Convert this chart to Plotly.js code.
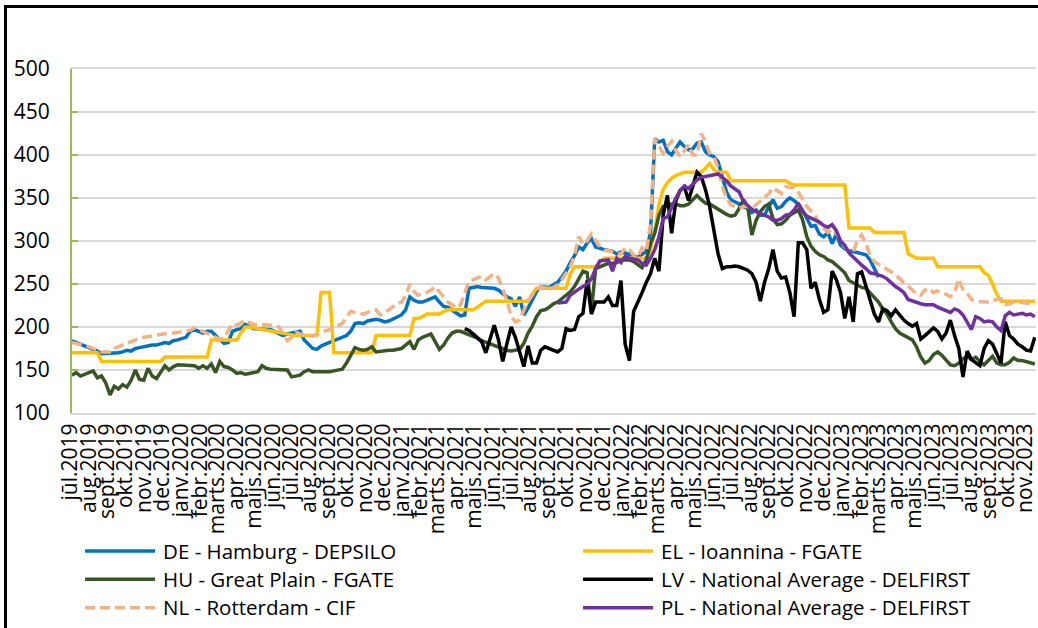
<!DOCTYPE html>
<html>
<head>
<meta charset="utf-8">
<script src="https://cdn.plot.ly/plotly-3.0.1.min.js"></script>
<style>
  html, body { margin: 0; padding: 0; background: #fff; overflow: hidden; }
  #chart { width: 1038px; height: 628px; }
  #frame { position: absolute; left: 4px; top: 5px; width: 1100px; height: 700px;
           border: 3px solid #000; pointer-events: none; }
</style>
</head>
<body>
<div id="chart"></div>
<div id="frame"></div>
<script>
// weekly prices, first week starting 1 Jul 2019
const firstWeek = Date.UTC(2019, 6, 1);
const weekCount = 229;

const monthNames = ['janv.', 'febr.', 'marts.', 'apr.', 'maijs.', 'jūn.', 'jūl.', 'aug.', 'sept.', 'okt.', 'nov.', 'dec.'];

const deStart = 0;
const dePrices = [
  184, 182, 180, 178, 177, 175, 172, 169, 169, 169,
  169, 170, 171, 173, 172, 175, 176, 177, 179, 179,
  179, 181, 182, 181, 184, 185, 186, 188, 195, 197,
  195, 193, 195, 195, 190, 185, 181, 182, 195, 197,
  198, 203, 200, 198, 198, 197, 197, 197, 195, 192,
  190, 192, 193, 195, 195, 185, 180, 175, 174, 178,
  180, 182, 184, 186, 188, 190, 195, 204, 205, 204,
  207, 208, 209, 208, 206, 207, 209, 211, 214, 220,
  235, 231, 229, 229, 231, 233, 235, 229, 224, 223,
  220, 216, 213, 214, 245, 246, 247, 246, 246, 245,
  245, 243, 239, 235, 233, 224, 235, 214, 222, 231,
  241, 247, 247, 246, 249, 252, 258, 265, 275, 283,
  293, 290, 298, 303, 293, 291, 290, 289, 288, 285,
  287, 286, 285, 283, 281, 285, 288, 310, 419, 415,
  417, 404, 400, 408, 415, 410, 406, 407, 414, 415,
  404, 400, 398, 392, 375, 357, 348, 346, 343, 340,
  338, 333, 336, 330, 330, 340, 348, 338, 340, 346,
  350, 347, 343, 336, 326, 317, 318, 308, 305, 310,
  297, 308, 295, 291, 289, 288, 287, 286, 284, 278,
  268, 258
];

const elStart = 0;
const elPrices = [
  170, 170, 170, 170, 170, 170, 170, 160, 160, 160,
  160, 160, 160, 160, 160, 160, 160, 160, 160, 160,
  160, 160, 165, 165, 165, 165, 165, 165, 165, 165,
  165, 165, 165, 185, 185, 185, 185, 185, 185, 185,
  193, 200, 200, 199, 198, 197, 196, 195, 194, 193,
  192, 191, 190, 190, 190, 190, 190, 190, 190, 240,
  240, 240, 170, 170, 170, 170, 170, 170, 170, 170,
  170, 170, 190, 190, 190, 190, 190, 190, 190, 190,
  190, 210, 210, 212, 215, 215, 215, 215, 218, 220,
  220, 220, 220, 220, 220, 220, 223, 227, 230, 230,
  230, 230, 230, 230, 230, 230, 230, 230, 230, 238,
  245, 245, 245, 245, 245, 245, 245, 245, 262, 270,
  270, 270, 270, 270, 270, 275, 280, 280, 280, 280,
  280, 280, 280, 280, 280, 280, 280, 290, 312, 343,
  360, 368, 373, 376, 378, 380, 380, 380, 380, 380,
  385, 390, 383, 380, 380, 380, 370, 370, 370, 370,
  370, 370, 370, 370, 370, 370, 370, 370, 370, 370,
  367, 365, 365, 365, 365, 365, 365, 365, 365, 365,
  365, 365, 365, 365, 315, 315, 315, 315, 315, 315,
  310, 310, 310, 310, 310, 310, 310, 310, 285, 282,
  280, 280, 280, 280, 280, 270, 270, 270, 270, 270,
  270, 270, 270, 270, 270, 270, 263, 260, 250, 238,
  230, 230, 230, 230, 230, 230, 230, 230, 230
];

const huStart = 0;
const huPrices = [
  144, 147, 143, 145, 146, 149, 141, 143, 135, 121,
  131, 128, 133, 130, 138, 150, 139, 138, 152, 143,
  140, 148, 155, 150, 154, 156, 156, 156, 156, 155,
  152, 155, 152, 157, 147, 160, 154, 153, 150, 146,
  147, 145, 146, 147, 148, 155, 152, 151, 151, 151,
  151, 150, 142, 143, 144, 148, 150, 148, 148, 147,
  147, 148, 149, 150, 151, 158, 167, 176, 174, 173,
  174, 177, 171, 172, 172, 173, 173, 174, 175, 179,
  183, 174, 185, 188, 190, 192, 183, 174, 179, 187,
  193, 195, 195, 193, 192, 190, 187, 184, 182, 180,
  179, 176, 175, 173, 172, 173, 174, 181, 193, 201,
  212, 219, 220, 223, 227, 229, 233, 237, 241, 247,
  256, 265, 263, 219, 268, 270, 272, 274, 274, 275,
  278, 278, 278, 276, 272, 269, 278, 297, 309, 330,
  340, 340, 343, 343, 341, 341, 343, 348, 353, 348,
  344, 343, 340, 336, 334, 331, 329, 330, 338, 348,
  340, 307, 324, 334, 340, 343, 326, 319, 320, 324,
  330, 333, 336, 325, 305, 294, 288, 284, 282, 278,
  276, 272, 267, 263, 254, 251, 249, 246, 245, 240,
  235, 229, 221, 215, 206, 198, 193, 190, 188, 185,
  177, 165, 158, 161, 168, 171, 167, 161, 156, 155,
  158, 163, 166, 162, 165, 160, 156, 161, 166, 158,
  156, 156, 159, 164, 161, 161, 160, 158, 157
];

const lvStart = 93;
const lvPrices = [
  198, 196, 192, 187, 183, 170, 185,
  202, 185, 160, 181, 200, 188, 170, 154, 178, 158,
  158, 173, 177, 175, 172, 171, 175, 198, 196, 197,
  212, 216, 254, 215, 229, 229, 229, 235, 225, 225,
  254, 180, 161, 218, 228, 240, 252, 262, 280, 265,
  330, 353, 309, 347, 359, 363, 347, 365, 380, 375,
  360, 340, 310, 285, 268, 270, 270, 271, 270, 268,
  266, 262, 252, 230, 252, 268, 290, 265, 257, 258,
  240, 212, 298, 298, 290, 245, 252, 232, 217, 220,
  265, 255, 240, 210, 235, 206, 262, 264, 248, 232,
  215, 206, 221, 219, 213, 220, 214, 208, 204, 201,
  204, 186, 190, 195, 199, 195, 186, 193, 208, 190,
  175, 142, 172, 162, 158, 155, 175, 184, 180, 170,
  158, 206, 190, 186, 180, 177, 173, 172, 188
];

const nlStart = 0;
const nlPrices = [
  182, 181, 180, 179, 177, 175, 173, 171, 171, 171,
  175, 177, 179, 182, 184, 186, 187, 188, 189, 190,
  191, 191, 192, 193, 193, 194, 194, 195, 196, 199,
  197, 195, 193, 191, 189, 186, 187, 195, 204, 202,
  205, 208, 205, 203, 203, 203, 202, 202, 202, 200,
  192, 184, 188, 194, 192, 190, 189, 190, 191, 194,
  195, 197, 200, 202, 204, 212, 218, 217, 216, 215,
  217, 219, 220, 214, 216, 220, 224, 227, 229, 236,
  250, 241, 237, 238, 240, 243, 247, 241, 235, 229,
  226, 222, 226, 239, 253, 255, 257, 259, 255, 259,
  262, 257, 243, 231, 212, 206, 208, 220, 231, 237,
  243, 247, 245, 243, 246, 249, 255, 262, 270, 283,
  305, 296, 300, 308, 301, 293, 289, 289, 287, 285,
  285, 292, 290, 283, 281, 292, 288, 320, 419, 410,
  402, 410, 416, 405, 398, 405, 412, 400, 400, 425,
  415, 402, 398, 385, 363, 350, 342, 340, 338, 340,
  340, 338, 342, 346, 350, 355, 362, 358, 355, 363,
  362, 362, 357, 349, 340, 335, 330, 319, 314, 310,
  314, 309, 301, 293, 289, 287, 301, 307, 297, 283,
  276, 273, 270, 267, 264, 261, 256, 252, 248, 243,
  238, 237, 243, 245, 240, 242, 239, 238, 235, 240,
  256, 243, 239, 232, 230, 229, 229, 229, 231, 232,
  233, 226, 227, 229, 229, 229, 228, 226, 226
];

const plStart = 115;
const plPrices = [
  228, 228, 229, 237, 241,
  244, 247, 250, 256, 268, 277, 278, 278, 265, 280,
  275, 282, 280, 279, 278, 274, 272, 280, 290, 305,
  326, 328, 340, 350, 358, 364, 361, 366, 371, 374,
  375, 375, 376, 378, 374, 370, 364, 360, 357, 346,
  341, 337, 334, 332, 330, 328, 324, 324, 326, 330,
  331, 336, 344, 334, 329, 327, 325, 322, 318, 316,
  319, 312, 300, 295, 286, 281, 277, 272, 268, 263,
  262, 261, 259, 256, 251, 247, 244, 240, 232, 230,
  228, 227, 226, 226, 226, 223, 221, 219, 217, 221,
  219, 214, 205, 197, 212, 210, 206, 207, 206, 200,
  196, 213, 217, 214, 215, 216, 214, 215, 212
];

const weeks = [];
for (let i = 0; i < weekCount; i++) {
  weeks.push(new Date(firstWeek + i * 7 * 86400000).toISOString().slice(0, 10));
}

const tickVals = [];
const tickText = [];
for (let y = 2019, m = 6; y < 2023 || (y === 2023 && m <= 10); m++) {
  if (m === 12) { m = 0; y++; }
  tickVals.push(`${y}-${String(m + 1).padStart(2, '0')}-01`);
  tickText.push(monthNames[m] + y);
}

const series = [
  { name: 'DE - Hamburg - DEPSILO', start: deStart, values: dePrices, color: '#0070C0' },
  { name: 'EL - Ioannina - FGATE', start: elStart, values: elPrices, color: '#FFC000' },
  { name: 'HU - Great Plain - FGATE', start: huStart, values: huPrices, color: '#375623' },
  { name: 'LV - National Average - DELFIRST', start: lvStart, values: lvPrices, color: '#000000' },
  { name: 'NL - Rotterdam - CIF', start: nlStart, values: nlPrices, color: '#F4B183', dash: '10px,5px' },
  { name: 'PL - National Average - DELFIRST', start: plStart, values: plPrices, color: '#7030A0' }
];

const traces = series.map(s => ({
  x: weeks.slice(s.start, s.start + s.values.length),
  y: s.values,
  type: 'scatter',
  mode: 'lines',
  name: `<span style="font-size:20.5px">${s.name}</span>`,
  line: { color: s.color, width: 3.5, dash: s.dash || 'solid' },
  hoverinfo: 'x+y'
}));

const font = 'Open Sans, Noto Sans, sans-serif';

const layout = {
  width: 1038,
  height: 628,
  margin: { l: 72, r: 2, t: 69, b: 215, pad: 0, autoexpand: false },
  paper_bgcolor: '#fff',
  plot_bgcolor: '#fff',
  font: { family: font, color: '#000' },
  showlegend: true,
  xaxis: {
    type: 'date',
    range: [weeks[0], '2023-11-15'],
    tickmode: 'array',
    tickvals: tickVals,
    ticktext: tickText,
    tickangle: -90,
    tickfont: { family: font, size: 21, color: '#000' },
    ticklabelshift: -2,
    ticklabeloverflow: 'allow',
    showgrid: false,
    showline: true,
    linecolor: '#d9d9d9',
    linewidth: 2,
    mirror: true,
    ticks: '',
    zeroline: false
  },
  yaxis: {
    range: [100, 500],
    tick0: 100,
    dtick: 50,
    tickfont: { family: font, size: 21, color: '#000' },
    showgrid: true,
    gridcolor: '#d9d9d9',
    gridwidth: 1.5,
    showline: true,
    linecolor: '#9bbb59',
    linewidth: 2,
    ticks: 'inside',
    ticklen: 6,
    tickwidth: 2,
    tickcolor: '#9bbb59',
    ticklabelstandoff: 16,
    zeroline: false
  },
  legend: {
    orientation: 'h',
    x: -0.001,
    xanchor: 'left',
    y: -0.3454,
    yanchor: 'top',
    itemwidth: 82,
    entrywidth: 401,
    entrywidthmode: 'pixels',
    traceorder: 'normal',
    font: { family: font, size: 19.5, color: '#000' },
    bgcolor: 'rgba(0,0,0,0)'
  }
};

Plotly.newPlot('chart', traces, layout, { displayModeBar: false, staticPlot: true }).then(gd => {
  // longer legend line samples, as in the original
  gd.querySelectorAll('.legend .legendlines path').forEach(p => p.setAttribute('d', 'M14,0h70'));
});
</script>
</body>
</html>
